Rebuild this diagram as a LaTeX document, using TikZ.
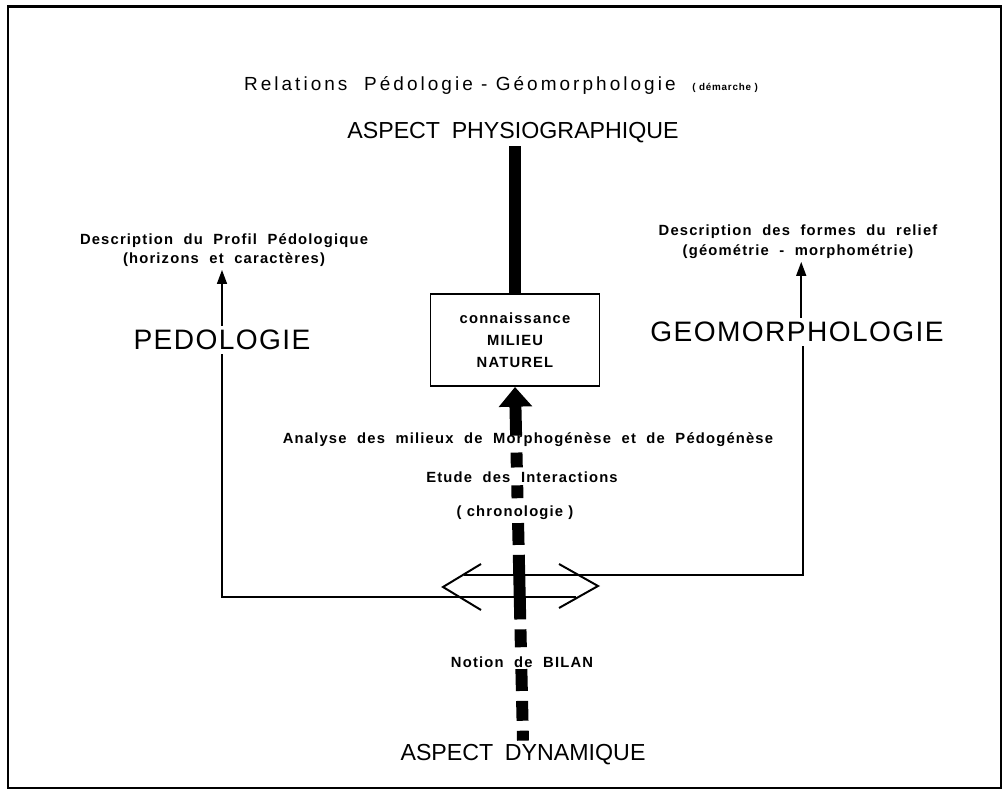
\documentclass[tikz,border=0pt]{standalone}
\usepackage{fontspec}
\setmainfont{Liberation Sans}
\newfontfamily\lsp[LetterSpace=8]{Liberation Sans}
\newfontfamily\lspt[LetterSpace=16]{Liberation Sans}
\newfontfamily\lspb[LetterSpace=5]{Liberation Sans}
\usetikzlibrary{arrows.meta,calc}
\begin{document}
\begin{tikzpicture}[x=0.025cm,y=-0.025cm,
  conn/.style={line width=1.4pt},
  upar/.style={conn,-{Triangle[length=10pt,width=7pt]}},
  thick bar/.style={line width=8.5pt},
  small/.style={font=\lsp\bfseries\fontsize{10.5}{14}\selectfont,align=center,inner sep=2pt},
  biglab/.style={font=\fontsize{16.5}{20}\selectfont,inner sep=2pt},
  hugelab/.style={font=\lspb\fontsize{20}{24}\selectfont,inner sep=3pt},
  boxsty/.style={draw,line width=1.4pt,minimum width=169*0.025cm,minimum height=92*0.025cm,
     font=\lsp\bfseries\fontsize{10.5}{15.5}\selectfont,align=center}
]
\useasboundingbox (0,0) rectangle (1006,793);
\draw[line width=1.8pt] (8,6.5) rectangle (1001,788);

\node[font=\lspt\fontsize{13.5}{16}\selectfont] (title) at (501,85)
  {Relations\ \ Pédologie - Géomorphologie\ \ {\lsp\bfseries\fontsize{7}{8}\selectfont( démarche )}};

\node[biglab] (phys) at (513,133) {ASPECT\enspace PHYSIOGRAPHIQUE};
\node[biglab] (dyn) at (523,755) {ASPECT\enspace DYNAMIQUE};

\node[boxsty] (box) at (515,340) {connaissance\\MILIEU\\NATUREL};

\node[small] (pdesc) at (224,250) {Description\ \ du\ \ Profil\ \ Pédologique\\(horizons\ \ et\ \ caractères)};
\node[small] (gdesc) at (798,242) {Description\ \ des\ \ formes\ \ du\ \ relief\\(géométrie\ \ -\ \ morphométrie)};

\node[hugelab] (pedo) at (222,340) {PEDOLOGIE};
\node[hugelab] (geo) at (797,332) {GEOMORPHOLOGIE};

\node[small] (analyse) at (528,440) {Analyse\ \ des\ \ milieux\ \ de\ \ Morphogénèse\ \ et\ \ de\ \ Pédogénèse};
\node[small] (etude) at (522,477) {Etude\ \ des\ \ Interactions};
\node[small] (chrono) at (515,513) {( chronologie )};
\node[small] (notion) at (522,662) {Notion\ \ de\ \ BILAN};

% upward arrows
\draw[upar] (pedo.north) -- (pedo.north |- pdesc.south);
\draw[upar] ([xshift=3pt]geo.north) -- ([xshift=3pt]geo.north |- gdesc.south);

% thick bar to box
\draw[thick bar] (phys.south -| box.north) -- (box.north);

% big arrow into box
\draw[thick bar,-{Triangle[length=14pt,width=23pt]}]
  ($(box.south)!{49/357}!(dyn.north)$) -- (box.south);

% dashes
\foreach \a/\b in {452/467,485/498,523/545,555/620,630/648,670/692,702/722,732/742}{
  \draw[thick bar] ($(box.south)!{(\a-386)/357}!(dyn.north)$) -- ($(box.south)!{(\b-386)/357}!(dyn.north)$);
}

% double arrow formed by the two connecting lines
\coordinate (dl) at (576,597);
\coordinate (dr) at (464,575);
\coordinate (ltip) at (443,587);
\coordinate (rtip) at (598,586);
\draw[conn] (pedo.south) |- (dl);
\draw[conn] ([xshift=4pt]geo.south) |- (dr);
\draw[conn] ($(ltip)+(38,-23)$) -- (ltip) -- ($(ltip)+(38,23)$);
\draw[conn] ($(rtip)+(-39,-22)$) -- (rtip) -- ($(rtip)+(-39,22)$);
\end{tikzpicture}
\end{document}
